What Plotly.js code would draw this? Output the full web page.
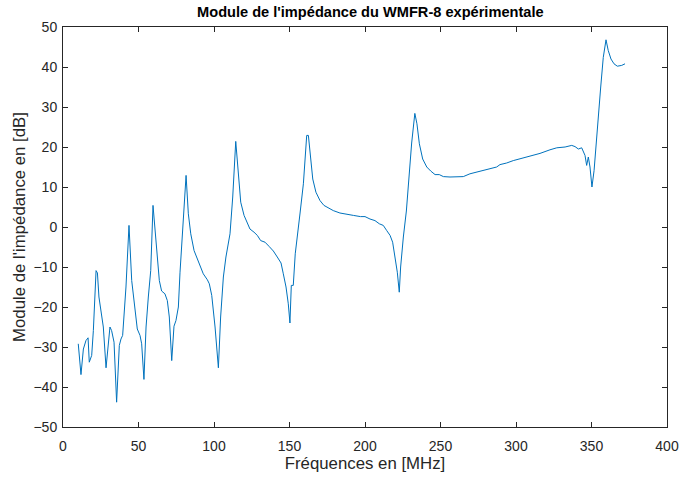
<!DOCTYPE html>
<html>
<head>
<meta charset="utf-8">
<script src="https://cdn.plot.ly/plotly-3.0.1.min.js"></script>
<style>html,body{margin:0;padding:0;background:#fff;}#chart{width:682px;height:479px;}</style>
</head>
<body>
<div id="chart"></div>
<script>
const freqMHz = [10.1,11.9,13.5,15.2,16.6,17.4,19.0,20.1,21.9,22.8,23.8,25.6,26.7,28.5,30.5,31.1,32.2,33.8,35.5,37.3,38.4,39.5,41.7,43.7,45.5,47.0,49.2,51.0,52.1,53.6,55.0,56.5,58.1,59.6,62.0,63.8,65.3,67.5,69.1,70.4,72.0,73.5,74.8,76.4,77.5,79.7,81.5,83.0,84.6,86.8,89.6,92.9,95.6,96.9,98.5,100.7,102.9,104.4,106.2,107.9,110.6,112.4,114.4,116.1,117.7,119.9,122.1,123.8,126.5,128.7,130.9,133.8,136.6,139.3,141.9,144.4,145.9,147.7,149.2,150.3,151.2,152.5,153.8,155.4,157.0,159.2,161.4,162.5,164.0,165.4,167.5,170.2,172.8,175.7,179.0,183.4,187.9,192.3,197.0,200.0,203.3,206.6,209.5,212.1,214.4,216.6,218.3,219.9,221.4,222.7,223.6,225.4,227.4,230.9,233.0,234.4,236.0,238.2,240.9,243.5,246.4,249.2,251.9,256.3,260.7,265.1,269.5,274.0,278.3,282.8,287.2,289.4,293.8,298.2,302.6,307.1,311.5,315.9,322.5,327.0,332.5,336.9,339.1,341.3,343.5,344.6,345.7,346.8,347.9,349.0,350.3,351.7,353.0,354.5,356.1,357.8,359.6,361.1,362.9,364.9,367.1,370.0,372.2];
const moduleDB = [-29.2,-36.9,-30.5,-28.4,-27.7,-33.8,-32.1,-25.9,-10.9,-11.5,-17.5,-21.7,-25,-35.2,-25.5,-25,-25.9,-28.8,-43.8,-29.6,-28,-27.1,-15,0.4,-13.4,-18.4,-25.5,-27.1,-29.2,-38.1,-25,-17.5,-10.9,5.4,-6.7,-13.4,-16,-16.7,-18.4,-22.5,-33.4,-24.8,-23.4,-20,-11.3,0.8,12.9,3.3,-1.7,-5.9,-8.8,-11.7,-13.2,-14.2,-17.1,-25,-35.2,-22.5,-12.5,-7.5,-1.7,7.5,21.4,12.5,6.2,2.9,0.8,-0.5,-1.3,-2.1,-3.4,-3.8,-4.9,-6,-7.5,-9,-11.7,-15,-19.2,-24,-14.6,-14.6,-6.7,-2,3.5,10.8,22.9,22.9,16.6,12,8.7,6.6,5.4,4.8,4.1,3.5,3.1,2.9,2.6,2.6,2.0,1.6,0.8,0.4,-0.9,-2.1,-3.8,-7.5,-11.3,-16.3,-10,-2.5,4,21,28.4,25.8,20.8,17,15,14,13.1,13.1,12.6,12.5,12.5,12.6,13.3,13.7,14.1,14.5,15,15.6,16,16.6,17,17.5,17.9,18.4,19.3,19.8,20,20.4,20.1,19.5,19.8,18.7,17.9,15.4,17.5,15,10,14.1,20.8,27.4,35,42.4,46.8,44.1,42,40.8,40.2,40.4,40.8];
const titleText = "Module de l'impédance du WMFR-8 expérimentale";
const xTitle = "Fréquences en [MHz]";
const yTitle = "Module de l'impédance en [dB]";

const fam = 'Liberation Sans, Arial, sans-serif';
const axisCommon = {
  showgrid: false, zeroline: false, showline: true, mirror: 'ticks',
  linecolor: '#262626', linewidth: 1, ticks: 'inside', ticklen: 5,
  tickcolor: '#262626', tickfont: {family: fam, size: 14, color: '#262626'}
};

Plotly.newPlot('chart', [{
  x: freqMHz, y: moduleDB, type: 'scatter', mode: 'lines',
  line: {color: '#0072BD', width: 1}
}], {
  width: 682, height: 479,
  margin: {l: 63, r: 15, t: 27, b: 52},
  paper_bgcolor: '#fff', plot_bgcolor: '#fff',
  showlegend: false,
  title: {text: '<b>' + titleText + '</b>', font: {family: fam, size: 14.6, color: '#000'}, x: 0.543, xanchor: 'center', y: 0.975, yanchor: 'middle', yref: 'container'},
  xaxis: Object.assign({}, axisCommon, {range: [0, 400], dtick: 50, tick0: 0, ticklabelstandoff: 6,
    title: {text: xTitle, font: {family: fam, size: 16.8, color: '#262626'}, standoff: 3}}),
  yaxis: Object.assign({}, axisCommon, {range: [-50, 50], dtick: 10, tick0: 0, ticklabelstandoff: 2,
    title: {text: yTitle, font: {family: fam, size: 16.8, color: '#262626'}, standoff: 3}})
}, {displayModeBar: false, staticPlot: true});
</script>
</body>
</html>
